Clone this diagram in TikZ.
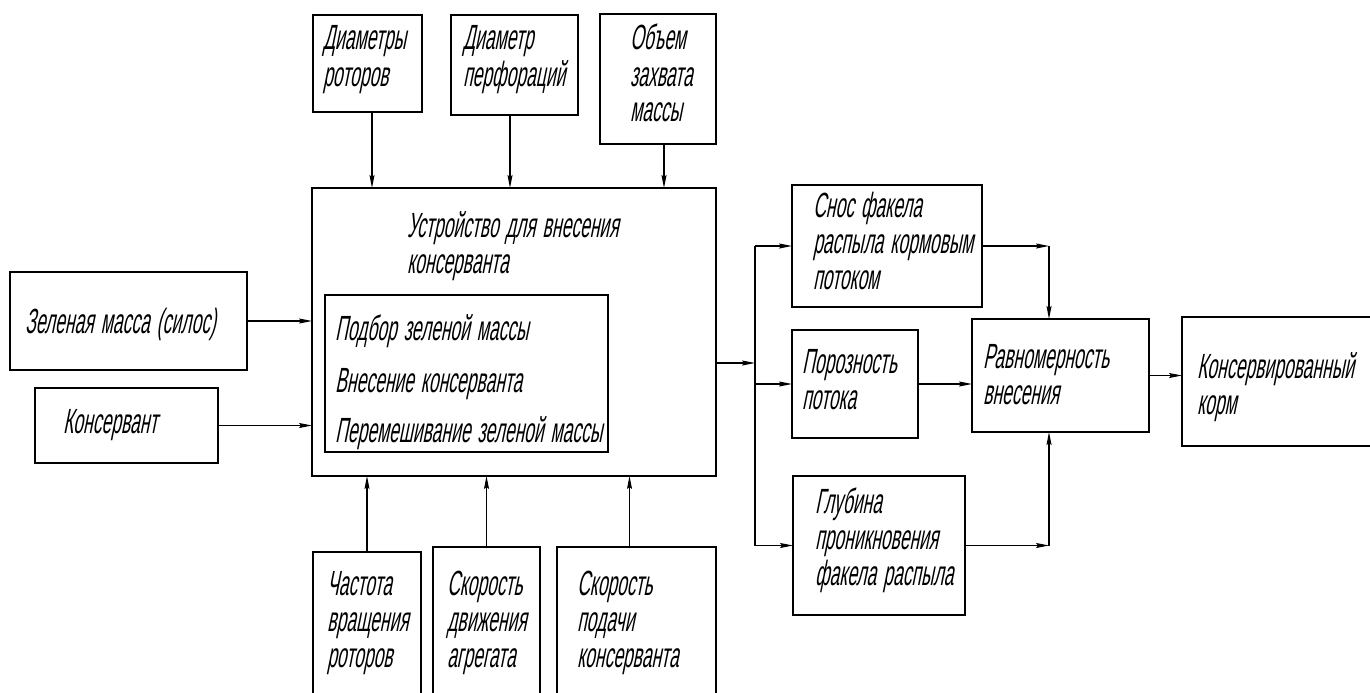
\documentclass[tikz,border=0pt]{standalone}
\usepackage{fontspec}
\setmainfont{Liberation Sans}[FakeStretch=0.5,FakeSlant=0.2]
\usetikzlibrary{arrows.meta}

% label font: condensed slanted sans
\DeclareRobustCommand\lblfont{\fontsize{35}{36}\selectfont}
% narrow gap between words
\newcommand\wg{\hspace{7pt}}

\tikzset{
  box/.style={draw, line width=2pt, anchor=north west, inner sep=0pt, outer sep=0pt},
  lbl/.style={anchor=base west, inner sep=0pt, outer sep=0pt, align=left,
    text width=500pt, font=\lblfont},
  conn/.style={line width=1.1pt, -{Stealth[length=13pt,width=5pt,inset=2pt]}},
  wire/.style={line width=1.1pt}
}

\begin{document}
\begin{tikzpicture}[x=1pt, y=-1pt]
\clip (0,0) rectangle (1370,693);
\fill[white] (0,0) rectangle (1370,693);

% input boxes on the left
\node[box, minimum width=237pt, minimum height=98pt] (zel) at (10,272) {};
\node[box, minimum width=183pt, minimum height=75pt] (kons) at (35,388) {};

% the device and its operations
\node[box, minimum width=404pt, minimum height=288pt] (main) at (312,188) {};
\node[box, minimum width=283pt, minimum height=157pt] (ops) at (325,295) {};

% design parameters above
\node[box, minimum width=109pt, minimum height=97pt] (d1) at (313,15) {};
\node[box, minimum width=127pt, minimum height=100pt] (d2) at (451,15) {};
\node[box, minimum width=116pt, minimum height=130pt] (d3) at (600,14) {};

% operating parameters below
\node[box, minimum width=108pt, minimum height=160pt] (b1) at (313,552) {};
\node[box, minimum width=107pt, minimum height=165pt] (b2) at (433,547) {};
\node[box, minimum width=159pt, minimum height=165pt] (b3) at (557,547) {};

% spray factors
\node[box, minimum width=190pt, minimum height=122pt] (snos) at (792,185) {};
\node[box, minimum width=126pt, minimum height=108pt] (poro) at (792,330) {};
\node[box, minimum width=172pt, minimum height=139pt] (glub) at (793,476) {};

% result
\node[box, minimum width=177pt, minimum height=113pt] (ravn) at (972,319) {};
\node[box, minimum width=198pt, minimum height=129pt] (korm) at (1182,317) {};

% texts
\node[lbl] (tzel) at (25,333) {Зеленая\wg масса\wg (силос)};
\node[lbl] (tkons) at (63,433) {Консервант};
\node[lbl] (tmain) at (407,237) {Устройство\wg для\wg внесения\\консерванта};
\node[lbl] (tops) at (335,340) {Подбор\wg зеленой\wg массы\\[16pt]Внесение\wg консерванта\\[14pt]Перемешивание\wg зеленой\wg массы};
\node[lbl] (td1) at (323,50) {Диаметры\\роторов};
\node[lbl] (td2) at (463,50) {Диаметр\\перфораций};
\node[lbl] (td3) at (630,50) {Объем\\захвата\\массы};
\node[lbl] (tb1) at (327,595) {Частота\\вращения\\роторов};
\node[lbl] (tb2) at (447,595) {Скорость\\движения\\агрегата};
\node[lbl] (tb3) at (577,595) {Скорость\\подачи\\консерванта};
\node[lbl] (tsnos) at (813,217) {Снос\wg факела\\распыла\wg кормовым\\потоком};
\node[lbl] (tporo) at (802,373) {Порозность\\потока};
\node[lbl] (tglub) at (815,513) {Глубина\\проникновения\\факела\wg распыла};
\node[lbl] (travn) at (983,368) {Равномерность\\внесения};
\node[lbl] (tkorm) at (1197,378) {Консервированный\\корм};

% inputs into the device
\draw[conn] (zel.east) -- (zel.east -| main.west);
\draw[conn] (kons.east) -- (kons.east -| main.west);
\draw[conn] ([xshift=4.5pt]d1.south) -- ([xshift=4.5pt]d1.south |- main.north);
\draw[conn] ([xshift=-4.5pt]d2.south) -- ([xshift=-4.5pt]d2.south |- main.north);
\draw[conn] ([xshift=6pt]d3.south) -- ([xshift=6pt]d3.south |- main.north);
\draw[conn] (b1.north) -- (b1.north |- main.south);
\draw[conn] (b2.north) -- (b2.north |- main.south);
\draw[conn] ([xshift=-7pt]b3.north) -- ([xshift=-7pt]b3.north |- main.south);

% output bus to the spray factors
\coordinate (bus) at (755,363);
\draw[conn] ([yshift=-31pt]main.east) -- (bus);
\draw[wire] (bus |- snos.west) -- (bus |- glub.west);
\draw[conn] (bus |- snos.west) -- (snos.west);
\draw[conn] (bus |- poro.west) -- (poro.west);
\draw[conn] (bus |- glub.west) -- (glub.west);

% spray factors into uniformity
\coordinate (j1) at (1049,246);
\coordinate (j2) at (1049,548);
\draw[conn] (snos.east) -- (snos.east -| j1);
\draw[conn] (snos.east -| j1) -- (j1 |- ravn.north);
\draw[conn] (poro.east) -- (poro.east -| ravn.west);
\draw[conn] (glub.east) -- (glub.east -| j2);
\draw[conn] (glub.east -| j2) -- (j2 |- ravn.south);
\draw[conn] (ravn.east) -- (ravn.east -| korm.west);
\end{tikzpicture}
\end{document}
